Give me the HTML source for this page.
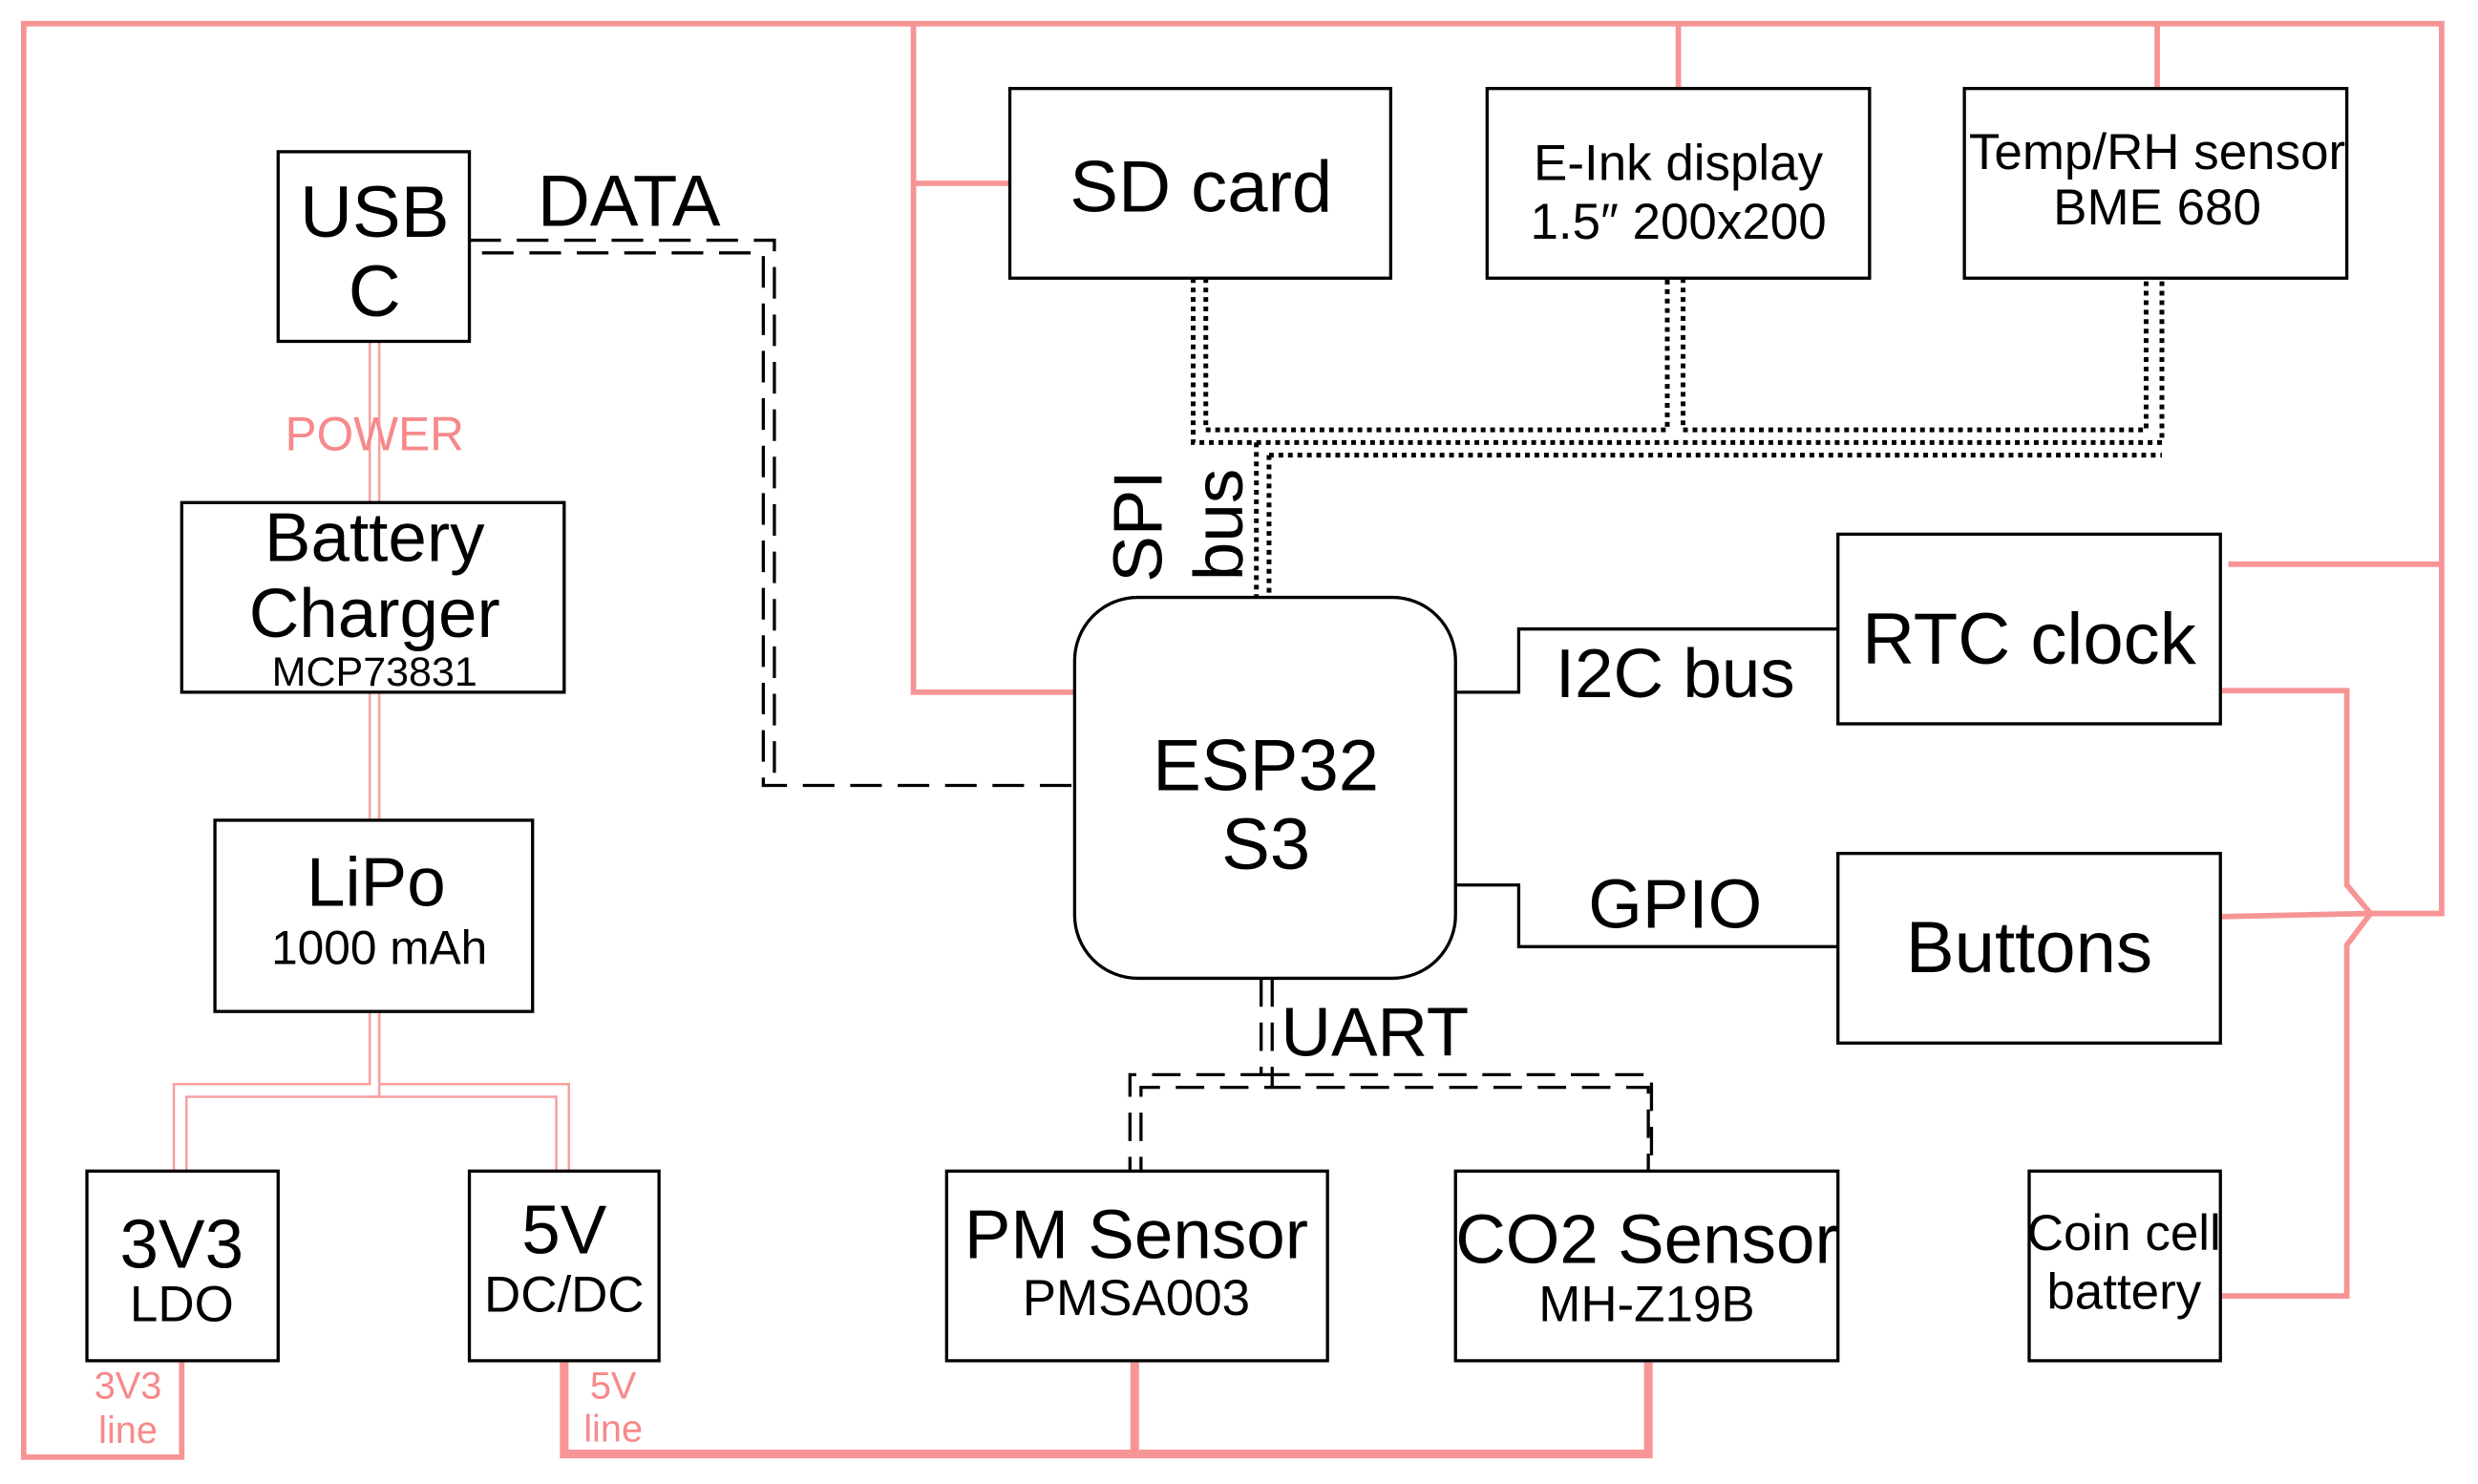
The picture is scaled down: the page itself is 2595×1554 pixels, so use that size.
<!DOCTYPE html>
<html><head><meta charset="utf-8"><style>
html,body{margin:0;padding:0;background:#fff;}
svg{display:block;}
text{font-family:"Liberation Sans Narrow","Liberation Sans",sans-serif;fill:#000;text-anchor:middle;}
.p{fill:#f7898a;}
</style></head><body>
<svg width="2595" height="1554" viewBox="0 0 1568 939" preserveAspectRatio="none" xmlns="http://www.w3.org/2000/svg">
<g fill="none" stroke="#f79596" stroke-width="3.5">
<path d="M115,862 V922 H15 V15 H1545 V578 H1500 L1405,580"/>
<path d="M578,15 V438 H680"/>
<path d="M578,116 H639"/>
<path d="M1062,15 V56 M1365,15 V56"/>
<path d="M1410,357 H1545"/>
<path d="M1405,437 H1485 V560 L1500,578 L1485,598 V820 H1405"/>
</g>
<g fill="none" stroke="#f79596" stroke-width="5.5">
<path d="M357,862 V920 H1043 V862 M718,862 V920"/>
</g>
<g fill="none" stroke="#f7a0a0" stroke-width="1.5">
<path d="M234,216 V318 M240,216 V318 M234,438 V519 M240,438 V519"/>
<path d="M234,640 V686 H110 V741 M240,640 V694 H118 V741"/>
<path d="M240,640 V686 H360 V741 M234,694 H352 V741"/>
</g>
<g fill="none" stroke="#000" stroke-width="2">
<path d="M297,152 H490 V490" stroke-dasharray="20,10"/>
<path d="M305,160 H483 V497 H680" stroke-dasharray="20,10"/>
</g>
<g fill="none" stroke="#000" stroke-width="3" stroke-dasharray="3,3">
<path d="M755,176 V280 H1368 V176"/>
<path d="M763,176 V272 H1055 V176 M1065,176 V272 H1358 V176"/>
<path d="M795,280 V378 M803,288 V378 M803,288 H1368"/>
</g>
<g fill="none" stroke="#000" stroke-width="2">
<path d="M798,619 V680 H715 V741" stroke-dasharray="18,10"/>
<path d="M805,619 V688 H722 V741 M805,688 H1043 V741" stroke-dasharray="18,10"/>
<path d="M798,680 H1045 V741" stroke-dasharray="18,10"/>
<path d="M921,438 H961 V398 H1163"/>
<path d="M921,560 H961 V599 H1163"/>
</g>
<g fill="#fff" stroke="#000" stroke-width="2">
<rect x="176" y="96" width="121" height="120"/>
<rect x="115" y="318" width="242" height="120"/>
<rect x="136" y="519" width="201" height="121"/>
<rect x="55" y="741" width="121" height="120"/>
<rect x="297" y="741" width="120" height="120"/>
<rect x="639" y="56" width="241" height="120"/>
<rect x="941" y="56" width="242" height="120"/>
<rect x="1243" y="56" width="242" height="120"/>
<rect x="680" y="378" width="241" height="241" rx="40"/>
<rect x="1163" y="338" width="242" height="120"/>
<rect x="1163" y="540" width="242" height="120"/>
<rect x="599" y="741" width="241" height="120"/>
<rect x="921" y="741" width="242" height="120"/>
<rect x="1284" y="741" width="121" height="120"/>
</g>
<text x="237" y="150" font-size="46">USB</text>
<text x="237" y="200" font-size="46">C</text>
<text x="398" y="143" font-size="46">DATA</text>
<text x="237" y="285" font-size="30" class="p">POWER</text>
<text x="237" y="355" font-size="44">Battery</text>
<text x="237" y="403" font-size="44">Charger</text>
<text x="237" y="434" font-size="26">MCP73831</text>
<text x="238" y="573" font-size="44">LiPo</text>
<text x="240" y="610" font-size="30">1000 mAh</text>
<text x="115" y="802" font-size="44">3V3</text>
<text x="115" y="836" font-size="32">LDO</text>
<text x="357" y="793" font-size="44">5V</text>
<text x="357" y="830" font-size="32">DC/DC</text>
<text x="81" y="885" font-size="24" class="p">3V3</text>
<text x="81" y="913" font-size="24" class="p">line</text>
<text x="388" y="885" font-size="24" class="p">5V</text>
<text x="388" y="912" font-size="24" class="p">line</text>
<text x="760" y="134" font-size="46">SD card</text>
<text x="1062" y="114" font-size="32">E-Ink display</text>
<text x="1062" y="151" font-size="32">1.5″ 200x200</text>
<text x="1365" y="107" font-size="32">Temp/RH sensor</text>
<text x="1365" y="142" font-size="32">BME 680</text>
<text transform="translate(735,333) rotate(-90)" font-size="44">SPI</text>
<text transform="translate(786,332) rotate(-90)" font-size="44">bus</text>
<text x="801" y="500" font-size="46">ESP32</text>
<text x="801" y="550" font-size="46">S3</text>
<text x="1060" y="441" font-size="44">I2C bus</text>
<text x="1060" y="587" font-size="44">GPIO</text>
<text x="870" y="668" font-size="44">UART</text>
<text x="1284" y="420" font-size="46">RTC clock</text>
<text x="1284" y="615" font-size="46">Buttons</text>
<text x="719" y="796" font-size="44">PM Sensor</text>
<text x="719" y="832" font-size="32">PMSA003</text>
<text x="1042" y="799" font-size="44">CO2 Sensor</text>
<text x="1042" y="836" font-size="32">MH-Z19B</text>
<text x="1344" y="791" font-size="32">Coin cell</text>
<text x="1344" y="828" font-size="32">battery</text>
</svg>
</body></html>
